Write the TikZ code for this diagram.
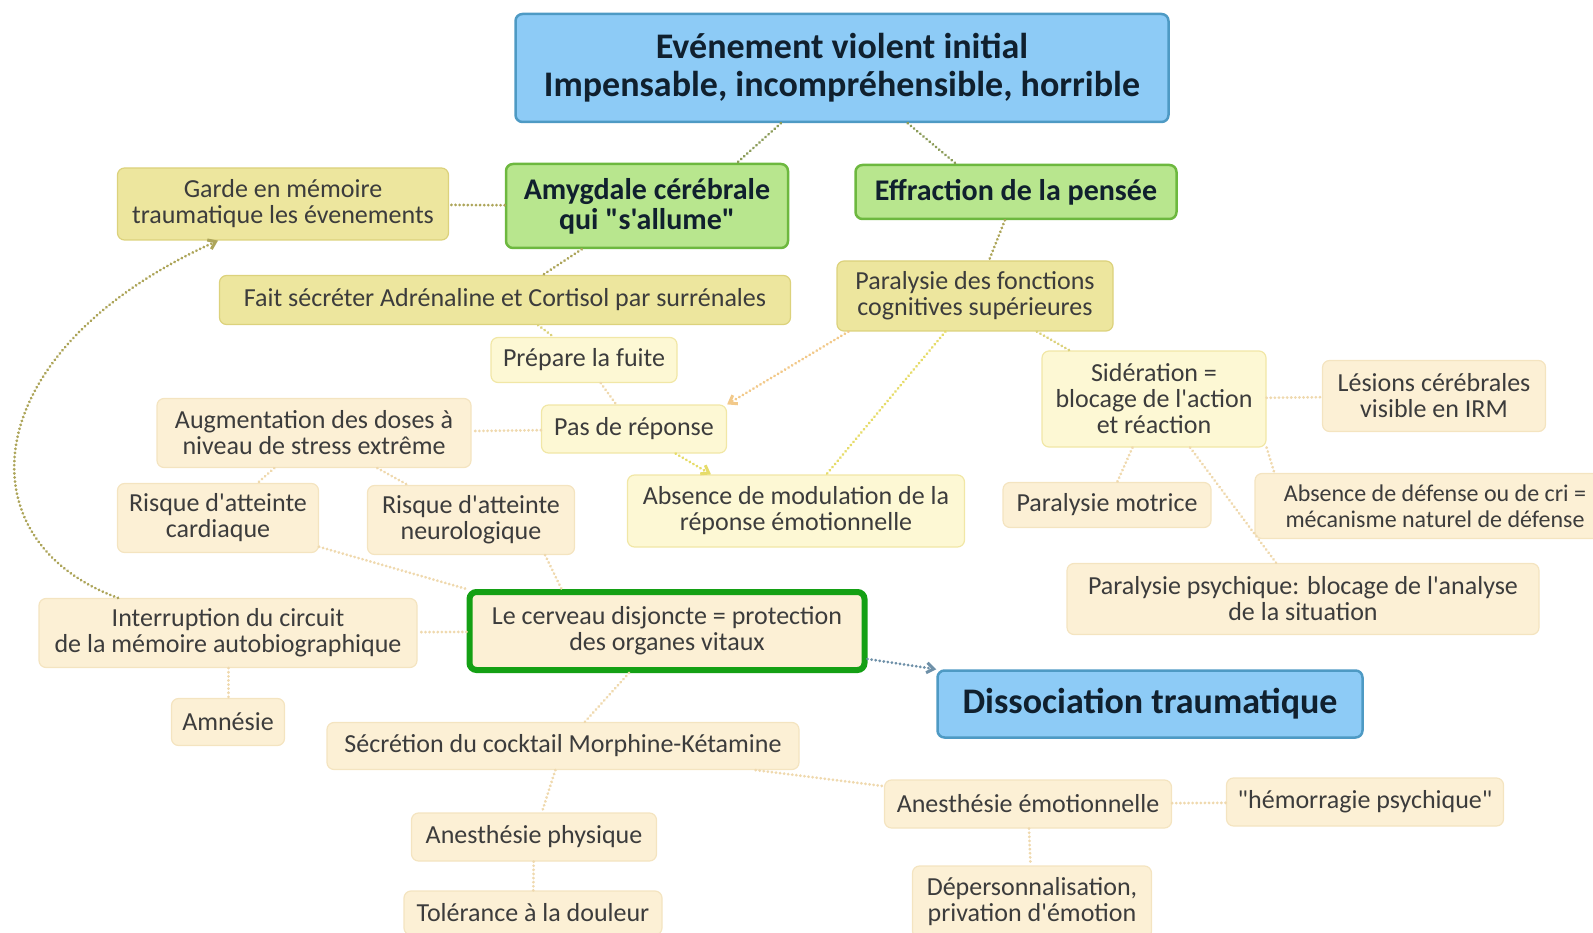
\documentclass[tikz,border=0pt]{standalone}
\usepackage{fontspec}
\setmainfont{Carlito}[Ligatures=TeXOff]
\usetikzlibrary{arrows.meta}
\definecolor{bluefill}{HTML}{8DCBF6}
\definecolor{blueline}{HTML}{4E9AC4}
\definecolor{greenfill}{HTML}{B8E68E}
\definecolor{greenline}{HTML}{6DB83F}
\definecolor{khakifill}{HTML}{EDE69E}
\definecolor{khakiline}{HTML}{DCD27C}
\definecolor{palefill}{HTML}{FDF8D4}
\definecolor{paleline}{HTML}{F1E7A6}
\definecolor{beigefill}{HTML}{FCF0D5}
\definecolor{beigeline}{HTML}{F4E4C0}
\definecolor{cervline}{HTML}{14A014}
\definecolor{textgray}{HTML}{3C3C3C}
\definecolor{titletext}{HTML}{10202E}
\definecolor{toplink}{HTML}{8C9C5A}
\definecolor{olivelink}{HTML}{ADA55A}
\definecolor{khakilink}{HTML}{DCD27C}
\definecolor{beigelink}{HTML}{EFD9AE}
\definecolor{yellowlink}{HTML}{E6DC6A}
\definecolor{peachlink}{HTML}{F2C98A}
\definecolor{dissoclink}{HTML}{6E90A8}
\begin{document}
\begin{tikzpicture}[x=1pt,y=-1pt,>={Straight Barb[length=7pt,width=10pt]},
    box/.style={rounded corners=7pt,align=center,inner sep=2pt,line width=1.2pt,text=textgray,font=\fontsize{26}{26}\selectfont},
    bluebox/.style={box,fill=bluefill,draw=blueline,line width=2.5pt,text=titletext,font=\fontsize{36}{38}\selectfont\bfseries},
    greenbox/.style={box,fill=greenfill,draw=greenline,line width=2.5pt,text=titletext,font=\fontsize{30}{30}\selectfont\bfseries},
    khakibox/.style={box,fill=khakifill,draw=khakiline},
    palebox/.style={box,fill=palefill,draw=paleline},
    beigebox/.style={box,fill=beigefill,draw=beigeline},
    link/.style={line width=3pt,line cap=round,dash pattern=on 0.1pt off 4pt,draw=beigelink}]
\useasboundingbox (0,0) rectangle (1593,933);
\clip (0,0) rectangle (1593,933);
\node[bluebox,minimum width=653pt,minimum height=108pt] (event) at (842,68) {Evénement violent initial\\Impensable, incompréhensible, horrible};
\node[greenbox,minimum width=282pt,minimum height=84pt] (amyg) at (647,206) {Amygdale cérébrale\\qui "s'allume"};
\node[greenbox,minimum width=321pt,minimum height=54pt] (effr) at (1016,192) {Effraction de la pensée};
\node[khakibox,minimum width=331pt,minimum height=72pt] (garde) at (283,204) {Garde en mémoire\\traumatique les évenements};
\node[khakibox,minimum width=571pt,minimum height=49pt] (adren) at (505,300) {Fait sécréter Adrénaline et Cortisol par surrénales};
\node[khakibox,minimum width=276pt,minimum height=70pt] (paral) at (975,296) {Paralysie des fonctions\\cognitives supérieures};
\node[palebox,minimum width=186pt,minimum height=45pt] (fuite) at (584,360) {Prépare la fuite};
\node[beigebox,minimum width=314pt,minimum height=69pt] (doses) at (314,433) {Augmentation des doses à\\niveau de stress extrême};
\node[palebox,minimum width=185pt,minimum height=48pt] (pasrep) at (634,429) {Pas de réponse};
\node[palebox,minimum width=224pt,minimum height=96pt] (sider) at (1154,399) {Sidération =\\blocage de l'action\\et réaction};
\node[beigebox,minimum width=223pt,minimum height=71pt] (lesions) at (1434,396) {Lésions cérébrales\\visible en IRM};
\node[beigebox,minimum width=201pt,minimum height=69pt] (cardia) at (218,518) {Risque d'atteinte\\cardiaque};
\node[beigebox,minimum width=207pt,minimum height=69pt] (neuro) at (471,520) {Risque d'atteinte\\neurologique};
\node[palebox,minimum width=337pt,minimum height=72pt] (modul) at (796,511) {Absence de modulation de la\\réponse émotionnelle};
\node[beigebox,minimum width=208pt,minimum height=45pt] (motri) at (1107,505) {Paralysie motrice};
\node[beigebox,minimum width=360pt,minimum height=65pt,font=\fontsize{24}{26}\selectfont] (defense) at (1435,506) {Absence de défense ou de cri =\\mécanisme naturel de défense};
\node[beigebox,minimum width=472pt,minimum height=71pt] (psych) at (1303,599) {Paralysie psychique: blocage de l'analyse\\de la situation};
\node[beigebox,draw=cervline,line width=6pt,minimum width=395pt,minimum height=78pt] (cerveau) at (667,631) {Le cerveau disjoncte = protection\\des organes vitaux};
\node[beigebox,minimum width=378pt,minimum height=69pt] (circuit) at (228,633) {Interruption du circuit\\de la mémoire autobiographique};
\node[bluebox,minimum width=425pt,minimum height=67pt] (dissoc) at (1150,704) {Dissociation traumatique};
\node[beigebox,minimum width=113pt,minimum height=47pt] (amnes) at (228,722) {Amnésie};
\node[beigebox,minimum width=472pt,minimum height=47pt] (cocktail) at (563,746) {Sécrétion du cocktail Morphine-Kétamine};
\node[beigebox,minimum width=287pt,minimum height=48pt] (anemo) at (1028,804) {Anesthésie émotionnelle};
\node[beigebox,minimum width=277pt,minimum height=48pt] (hemo) at (1365,802) {"hémorragie psychique"};
\node[beigebox,minimum width=245pt,minimum height=48pt] (anphys) at (534,837) {Anesthésie physique};
\node[beigebox,minimum width=239pt,minimum height=72pt] (deperso) at (1032,902) {Dépersonnalisation,\\privation d'émotion};
\node[beigebox,minimum width=258pt,minimum height=44pt] (douleur) at (533,913) {Tolérance à la douleur};
\draw[link,draw=toplink] (event) -- ([xshift=90pt]amyg.north);
\draw[link,draw=toplink] (event) -- ([xshift=-60pt]effr.north);
\draw[link,draw=olivelink] (amyg) -- (garde);
\draw[link,draw=olivelink] (amyg) -- (adren);
\draw[link,draw=olivelink] (effr) -- (paral);
\draw[link,draw=khakilink] (adren) -- (fuite);
\draw[link] (fuite) -- (pasrep);
\draw[link] (pasrep) -- (doses);
\draw[link,draw=yellowlink,->] (pasrep) -- ([xshift=-85pt]modul.north);
\draw[link,draw=peachlink,->] ([xshift=12pt]paral.south west) -- (pasrep.north east);
\draw[link,draw=yellowlink] (paral) -- (modul);
\draw[link,draw=khakilink] (paral) -- (sider);
\draw[link] (sider) -- (lesions);
\draw[link] (sider) -- (motri);
\draw[link] (sider.south east) -- ([xshift=20pt]defense.north west);
\draw[link] (sider) -- (psych);
\draw[link] (doses) -- (cardia);
\draw[link] (doses) -- (neuro);
\draw[link] (cardia) -- (cerveau.north west);
\draw[link] ([xshift=-30pt]neuro.south east) -- ([xshift=95pt]cerveau.north west);
\draw[link] (cerveau) -- (circuit);
\draw[link] (circuit) -- (amnes);
\draw[link] (cerveau) -- (cocktail);
\draw[link,draw=dissoclink,->] ([yshift=-28pt]cerveau.east) -- (dissoc.north west);
\draw[link] (cocktail) -- (anphys);
\draw[link] (anphys) -- (douleur);
\draw[link] (cocktail) -- (anemo);
\draw[link] (anemo) -- (hemo);
\draw[link] (anemo) -- (deperso);
\draw[link,draw=olivelink,->] ([xshift=-110pt]circuit.north) .. controls (-40,540) and (-25,350) .. ([xshift=-65pt]garde.south);
\end{tikzpicture}
\end{document}
